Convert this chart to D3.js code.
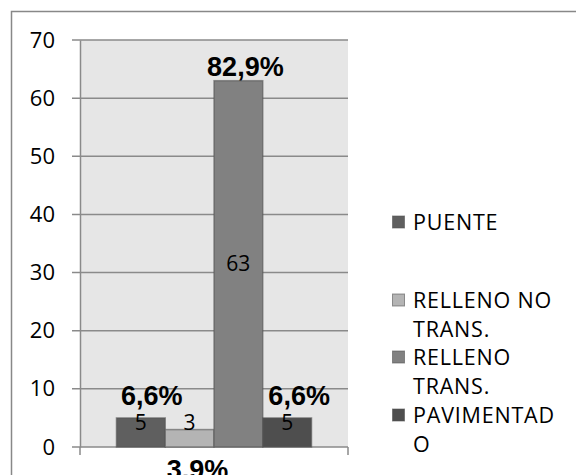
<!DOCTYPE html>
<html>
<head>
<meta charset="utf-8">
<script src="https://cdn.jsdelivr.net/npm/d3@7"></script>
<style>
  html, body { margin: 0; padding: 0; background: #fff; }
  svg { display: block; }
</style>
</head>
<body>
<div id="chart"></div>
<script>
  // data
  const series = ['PUENTE', 'RELLENO NO TRANS.', 'RELLENO TRANS.', 'PAVIMENTADO'];
  const legendLines = [['PUENTE'], ['RELLENO NO', 'TRANS.'], ['RELLENO', 'TRANS.'], ['PAVIMENTAD', 'O']];
  const values = [5, 3, 63, 5];
  const percents = ['6,6%', '3,9%', '82,9%', '6,6%'];
  const colors = ['#5f5f5f', '#b4b4b4', '#818181', '#4e4e4e'];
  const yTicks = [0, 10, 20, 30, 40, 50, 60, 70];

  const width = 576, height = 475;
  const plot = { left: 80, right: 348, top: 40, bottom: 447 };
  const font = '"Open Sans", sans-serif';

  const svg = d3.select('#chart').append('svg')
    .attr('width', width)
    .attr('height', height);

  // outer frame (runs off the right and bottom edge)
  svg.append('rect')
    .attr('x', 11.5).attr('y', 11.5)
    .attr('width', width).attr('height', height)
    .attr('fill', '#fff')
    .attr('stroke', '#888').attr('stroke-width', 1.5);

  const y = d3.scaleLinear().domain([0, 70]).range([plot.bottom, plot.top]);
  const x0 = d3.scaleBand().domain(['g']).range([plot.left, plot.right])
    .paddingInner(0).paddingOuter(0.187);
  const x1 = d3.scaleBand().domain(series).range([0, x0.bandwidth()]);

  svg.append('rect')
    .attr('x', plot.left).attr('y', plot.top)
    .attr('width', plot.right - plot.left).attr('height', plot.bottom - plot.top)
    .attr('fill', '#e6e6e6');

  // grid lines
  svg.append('g')
    .selectAll('line')
    .data(yTicks)
    .join('line')
    .attr('x1', plot.left - 8).attr('x2', plot.right)
    .attr('y1', d => y(d)).attr('y2', d => y(d))
    .attr('stroke', '#8a8a8a').attr('stroke-width', 1.5);

  // y axis
  const yAxis = d3.axisLeft(y).tickValues(yTicks).tickSize(0).tickPadding(25);
  const gy = svg.append('g')
    .attr('transform', 'translate(' + plot.left + ',0)')
    .call(yAxis);
  gy.select('.domain').attr('stroke', '#8a8a8a').attr('stroke-width', 1.5);
  gy.selectAll('text')
    .attr('font-family', font).attr('font-size', 22).attr('fill', '#000');

  // small ticks below the x axis at both ends
  svg.append('g')
    .selectAll('line')
    .data([plot.left, plot.right])
    .join('line')
    .attr('x1', d => d).attr('x2', d => d)
    .attr('y1', plot.bottom).attr('y2', plot.bottom + 8)
    .attr('stroke', '#8a8a8a').attr('stroke-width', 1.5);

  // bars
  const bars = svg.append('g').attr('transform', 'translate(' + x0('g') + ',0)');
  bars.selectAll('rect')
    .data(values)
    .join('rect')
    .attr('x', (d, i) => x1(series[i]))
    .attr('y', d => y(d))
    .attr('width', x1.bandwidth())
    .attr('height', d => y(0) - y(d))
    .attr('fill', (d, i) => colors[i])
    .attr('stroke', '#555').attr('stroke-opacity', 0.6).attr('stroke-width', 1.5);

  // value labels
  bars.selectAll('text.val')
    .data(values)
    .join('text')
    .attr('class', 'val')
    .attr('x', (d, i) => x1(series[i]) + x1.bandwidth() / 2)
    .attr('y', d => Math.min(y(d / 2), y(4.2)))
    .attr('dy', '0.36em')
    .attr('text-anchor', 'middle')
    .attr('font-family', font).attr('font-size', 21)
    .text(d => d);

  // percent labels
  const pctY = [y(5) - 13, y(0) + 32, y(63) - 5, y(5) - 13];
  bars.selectAll('text.pct')
    .data(percents)
    .join('text')
    .attr('class', 'pct')
    .attr('x', (d, i) => x1(series[i]) + x1.bandwidth() / 2 + [11, 8, 7, 12][i])
    .attr('y', (d, i) => pctY[i])
    .attr('text-anchor', 'middle')
    .attr('font-family', '"Liberation Sans", Arial, sans-serif')
    .attr('font-weight', 'bold').attr('font-size', 27)
    .text(d => d);

  // legend
  const legendTop = [222, 300, 357, 415];
  const lg = svg.append('g').attr('transform', 'translate(392,0)');
  const item = lg.selectAll('g')
    .data(legendLines)
    .join('g')
    .attr('transform', (d, i) => 'translate(0,' + legendTop[i] + ')');
  item.append('rect')
    .attr('x', 0.5).attr('y', -6)
    .attr('width', 12).attr('height', 12)
    .attr('fill', (d, i) => colors[i])
    .attr('stroke', '#555').attr('stroke-opacity', 0.6);
  item.append('text')
    .attr('font-family', font).attr('font-size', 21.5)
    .attr('letter-spacing', 0.8)
    .selectAll('tspan')
    .data(d => d)
    .join('tspan')
    .attr('x', 21)
    .attr('y', (d, i) => i * 29)
    .attr('dy', '0.35em')
    .text(d => d);
</script>
</body>
</html>
